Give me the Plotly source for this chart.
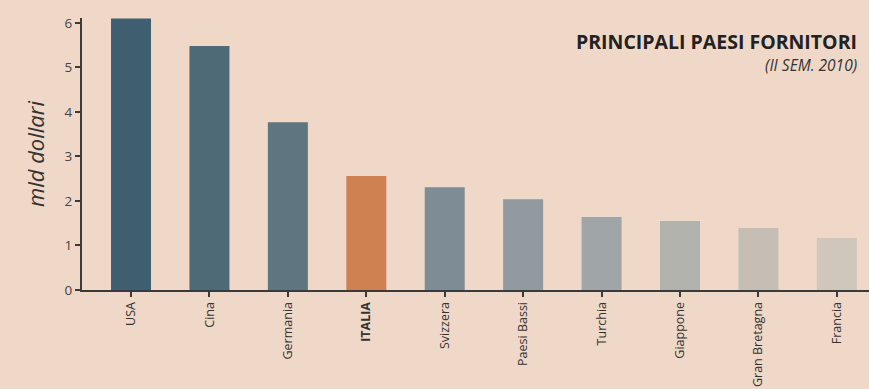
import plotly.graph_objects as go

categories = ["USA", "Cina", "Germania", "ITALIA", "Svizzera", "Paesi Bassi",
              "Turchia", "Giappone", "Gran Bretagna", "Francia"]
values = [6.1, 5.48, 3.77, 2.56, 2.31, 2.04, 1.64, 1.55, 1.39, 1.17]
colors = ["#3f5e6f", "#4f6a77", "#5f7580", "#cf8152", "#7e8d95", "#909a9f",
          "#a0a5a7", "#b3b3ad", "#c6beb5", "#cfc6bc"]
tick_text = ["<b>ITALIA</b>" if c == "ITALIA" else c for c in categories]
y_ticks = [0, 1, 2, 3, 4, 5, 6]

bg = "#efd8c7"
fig = go.Figure(go.Bar(x=categories, y=values, marker=dict(color=colors, line=dict(width=0)),
                       width=0.51))

plot_w = 869 - 82
plot_h = 389 - 18 - 99
def px_x(px):
    return (px - 82) / plot_w
def px_y(py):
    return (389 - 99 - py) / plot_h

fig.update_layout(
    width=869, height=389,
    margin=dict(l=82, r=0, t=18, b=99),
    paper_bgcolor=bg, plot_bgcolor=bg,
    font=dict(family="Open Sans", color="#333333", size=12),
    showlegend=False,
    xaxis=dict(
        range=[-0.625, 9.41], tickmode="array", tickvals=categories, ticktext=tick_text,
        tickangle=-90, showline=True, linecolor="#3a3a3a", linewidth=2,
        ticks="outside", ticklen=5, tickcolor="#3a3a3a", tickwidth=1.5,
        showgrid=False, zeroline=False, tickfont=dict(size=12.5, color="#333333"),
    ),
    yaxis=dict(
        range=[0, 6.11], tickvals=y_ticks, showline=True, linecolor="#3a3a3a", linewidth=2,
        ticks="outside", ticklen=5, tickcolor="#3a3a3a", tickwidth=1.5,
        showgrid=False, zeroline=False, tickfont=dict(size=13.5, color="#444444"),
        title=dict(text="<i>mld dollari</i>", font=dict(size=22, color="#333333"), standoff=14),
    ),
)

fig.add_annotation(text="<b>PRINCIPALI PAESI FORNITORI</b>", xref="paper", yref="paper",
                   x=px_x(859), y=px_y(41), xanchor="right", yanchor="middle", showarrow=False,
                   font=dict(family="Open Sans", size=19.5, color="#222222"))
fig.add_annotation(text="<i>(II SEM. 2010)</i>", xref="paper", yref="paper",
                   x=px_x(859), y=px_y(65), xanchor="right", yanchor="middle", showarrow=False,
                   font=dict(family="Open Sans", size=15.5, color="#333333"))

fig.write_html("out.html")
